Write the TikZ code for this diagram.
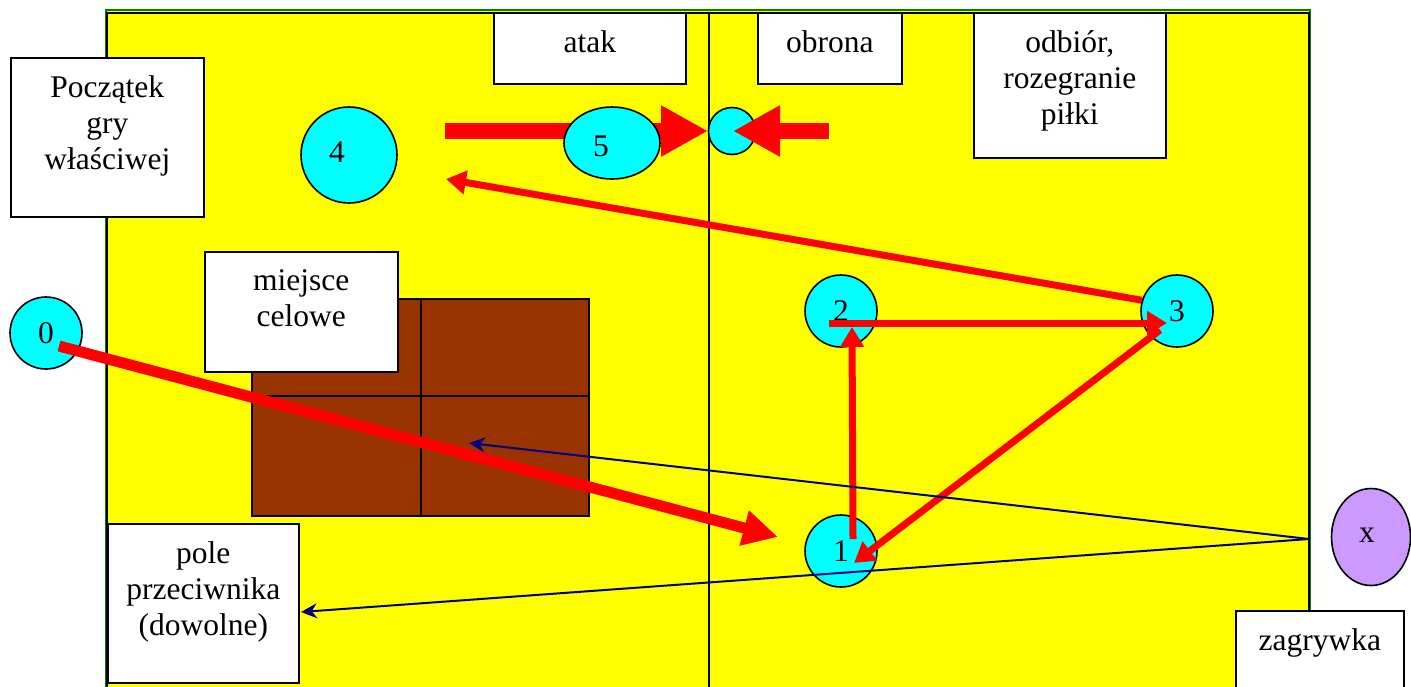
\documentclass[tikz,border=0pt]{standalone}
\usepackage{fontspec}
\setmainfont{Liberation Serif}
\usetikzlibrary{arrows.meta,positioning,shapes.geometric}

\definecolor{courtyellow}{RGB}{255,255,0}
\definecolor{courtgreen}{RGB}{0,128,0}
\definecolor{zonebrown}{RGB}{153,51,0}
\definecolor{ballcyan}{RGB}{0,255,255}
\definecolor{lilac}{RGB}{204,153,255}
\definecolor{moved}{RGB}{255,0,0}
\definecolor{servenavy}{RGB}{0,0,128}

\begin{document}
\begin{tikzpicture}[x=0.5pt,y=-0.5pt,
  every node/.style={font=\fontsize{15.75}{18}\selectfont},
  tbox/.style={draw,fill=white,line width=0.8pt,inner sep=0pt,anchor=north west},
  txt/.style={inner sep=0pt,align=center,anchor=north},
  player/.style={circle,draw,fill=ballcyan,line width=0.8pt,inner sep=0pt,minimum size=36pt},
  move/.style={draw=moved,line width=3.5pt,-{Triangle[length=10pt,width=11.5pt]}},
  longmove/.style={draw=moved,line width=5.5pt,-{Triangle[length=17.5pt,width=17pt]}},
  bigmove/.style={draw=moved,line width=8pt,-{Triangle[length=23.5pt,width=24pt]}},
  serveline/.style={draw=servenavy,line width=1pt,-{Stealth[length=8pt,width=7.5pt]}}]

\useasboundingbox (0,0) rectangle (1411,686);
\clip (0,0) rectangle (1411,686);

% court
\draw [draw=courtgreen,line width=1pt,fill=courtyellow] (106,10) rectangle (1310,700);
\draw [line width=1pt] (107,700) -- (107,13) -- (1309,13) -- (1309,700);
\draw [line width=0.8pt] (709,13) -- (709,700);

% target zone
\draw [fill=zonebrown,line width=0.8pt] (252,299) rectangle (589,516);
\draw [line width=0.8pt] (421,299) -- (421,516) (252,396) -- (589,396);

% labels
\node [tbox,minimum width=96.5pt,minimum height=79.5pt] at (10,57) (start) {};
\node [txt,below=9.25pt of start.north] (starttext) {Początek\\gry\\właściwej};

\node [tbox,minimum width=96pt,minimum height=35.5pt] at (493,12) (attack) {};
\node [txt,below=9.25pt of attack.north] (attacktext) {atak};

\node [tbox,minimum width=72pt,minimum height=35.5pt] at (757,12) (defence) {};
\node [txt,below=9.25pt of defence.north] (defencetext) {obrona};

\node [tbox,minimum width=96pt,minimum height=72.5pt] at (973,12) (receive) {};
\node [txt,below=9.25pt of receive.north] (receivetext) {odbiór,\\rozegranie\\piłki};

\node [tbox,minimum width=96.5pt,minimum height=60pt] at (204,251) (target) {};
\node [txt,below=9.25pt of target.north] (targettext) {miejsce\\celowe};

\node [tbox,minimum width=95.5pt,minimum height=79.5pt] at (107,523) (field) {};
\node [txt,below=9.25pt of field.north] (fieldtext) {pole\\przeciwnika\\(dowolne)};

\node [tbox,minimum width=84pt,minimum height=45pt] at (1235,610) (serve) {};
\node [txt,below=9.25pt of serve.north] (servetext) {zagrywka};

% attack and block
\coordinate (atkfrom) at (445,131);
\coordinate (atkto) at (708,131);
\draw [bigmove] (atkfrom) -- (atkto);

\node [player,minimum size=48pt,label={[name=t4,xshift=-6pt,yshift=1.5pt]center:4}] at (349,155) (p4) {};
\node [player,ellipse,minimum width=48pt,minimum height=36pt,label={[name=t5,xshift=-5.5pt,yshift=-1.5pt]center:5}] at (612,143) (p5) {};
\node [player,minimum size=23.5pt] at (732,131) (block) {};

\coordinate (blkfrom) at (829,131);
\coordinate (blkto) at (733,131);
\draw [bigmove] (blkfrom) -- (blkto);

% players
\node [player] at (46,333) (p0) {0};
\node [player] at (841,551) (p1) {1};
\node [player] at (841,311) (p2) {2};
\node [player] at (1177,311) (p3) {3};
\node [player,ellipse,fill=lilac,minimum width=39.5pt,minimum height=48.5pt,label={[name=tx,xshift=-2pt,yshift=1pt]center:x}] at (1371,537) (server) {};

% moves
\coordinate (m0) at (59,346);
\coordinate (m1) at (778,537);
\draw [longmove] (m0) -- (m1);

\coordinate (u1) at (853,539);
\coordinate (u2) at (852,327);
\draw [move] (u1) -- (u2);

\coordinate (r2) at (829,323);
\coordinate (r3) at (1167,323);
\draw [move] (r2) -- (r3);

\coordinate (d3) at (1160,330);
\coordinate (d1) at (854,563);
\draw [move] (d3) -- (d1);

\coordinate (back4) at (446,179);
\draw [move] (p3.163) -- (back4);

% serve
\coordinate (srv) at (1309,539);
\coordinate (aim1) at (469,443);
\coordinate (aim2) at (301,612);
\draw [serveline] (srv) -- (aim1);
\draw [serveline] (srv) -- (aim2);

\end{tikzpicture}
\end{document}
